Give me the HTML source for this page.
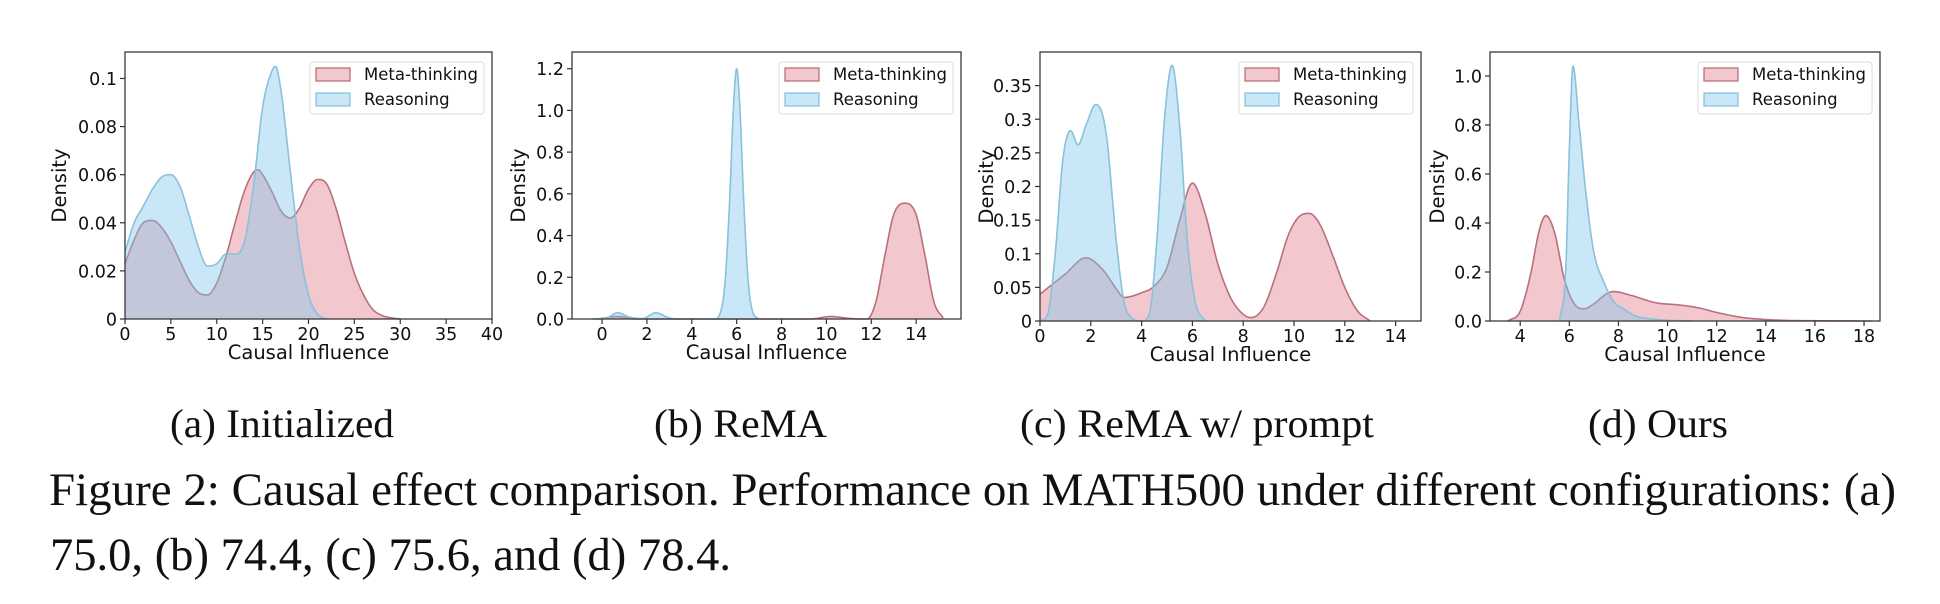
<!DOCTYPE html>
<html><head><meta charset="utf-8">
<style>
html,body{margin:0;padding:0;background:#fff;}
svg{display:block;}
text{font-family:"DejaVu Sans","Liberation Sans",sans-serif;fill:#111;}
.serif{font-family:"Liberation Serif","DejaVu Serif",serif;}
</style></head>
<body>
<svg id="fig" width="1940" height="604" viewBox="0 0 1940 604" xmlns="http://www.w3.org/2000/svg">
  <text class="serif" x="170" y="437" font-size="40" textLength="224" lengthAdjust="spacingAndGlyphs">(a) Initialized</text>
  <text class="serif" x="654" y="437" font-size="40" textLength="173" lengthAdjust="spacingAndGlyphs">(b) ReMA</text>
  <text class="serif" x="1020" y="437" font-size="40" textLength="354" lengthAdjust="spacingAndGlyphs">(c) ReMA w/ prompt</text>
  <text class="serif" x="1588" y="437" font-size="40" textLength="140" lengthAdjust="spacingAndGlyphs">(d) Ours</text>
  <text class="serif" x="49" y="505" font-size="47" textLength="1847" lengthAdjust="spacingAndGlyphs">Figure 2: Causal effect comparison. Performance on MATH500 under different configurations: (a)</text>
  <text class="serif" x="50" y="570" font-size="47" textLength="681" lengthAdjust="spacingAndGlyphs">75.0, (b) 74.4, (c) 75.6, and (d) 78.4.</text>
</svg>
<script>
// ---- data: panel (a) Initialized ----
const aMetaX = [0,1,2,3,4,5,6,7,8,9,10,11,12,13,14,14.5,15,16,17,18,19,20,21,22,23,24,25,26,27,28,29,30];
const aMetaY = [0.023,0.033,0.040,0.041,0.038,0.032,0.024,0.016,0.011,0.010,0.015,0.026,0.040,0.053,0.061,0.062,0.060,0.053,0.045,0.042,0.046,0.054,0.058,0.056,0.046,0.032,0.019,0.010,0.004,0.0015,0.0005,0];
const aReasX = [0,1,2,3,4,5,6,7,8,9,10,11,12,13,14,15,16,16.4,17,18,19,20,21,22];
const aReasY = [0.028,0.040,0.047,0.054,0.059,0.060,0.055,0.043,0.030,0.022,0.023,0.027,0.027,0.032,0.055,0.088,0.103,0.105,0.095,0.062,0.030,0.010,0.002,0];
const aXTicks = [0,5,10,15,20,25,30,35,40];
const aYTicks = [0,0.02,0.04,0.06,0.08,0.1];
const aYTickLabels = ["0","0.02","0.04","0.06","0.08","0.1"];
// ---- data: panel (b) ReMA ----
const bMetaX = [-0.2,0.7,1.5,9.3,10.2,11.1,11.8,12.2,12.6,13.0,13.5,14.0,14.4,14.8,15.2];
const bMetaY = [0,0.012,0,0,0.012,0.002,0,0.08,0.3,0.5,0.555,0.5,0.3,0.08,0.005];
const bReasX = [-0.4,0.2,0.7,1.2,1.8,2.4,3.0,3.5,5.0,5.3,5.5,5.7,5.85,6.0,6.15,6.3,6.5,6.7,7.0];
const bReasY = [0,0.005,0.03,0.01,0.002,0.03,0.005,0,0,0.04,0.2,0.6,1.0,1.2,1.0,0.6,0.2,0.04,0];
const bXTicks = [0,2,4,6,8,10,12,14];
const bYTicks = [0,0.2,0.4,0.6,0.8,1.0,1.2];
const bYTickLabels = ["0.0","0.2","0.4","0.6","0.8","1.0","1.2"];
// ---- data: panel (c) ReMA w/ prompt ----
const cMetaX = [0,0.5,1,1.8,2.5,3.0,3.3,4,4.5,5,5.5,6.0,6.5,7.0,7.5,8.0,8.3,8.8,9.3,9.8,10.3,10.6,11.0,11.5,12.0,12.5,13.0];
const cMetaY = [0.04,0.055,0.07,0.094,0.075,0.048,0.035,0.042,0.052,0.08,0.15,0.205,0.16,0.085,0.035,0.01,0.005,0.02,0.07,0.13,0.158,0.16,0.145,0.1,0.05,0.015,0];
const cReasX = [0,0.3,0.6,0.9,1.2,1.5,1.8,2.2,2.6,3.0,3.3,3.6,4.0,4.3,4.6,4.9,5.2,5.5,5.8,6.1,6.5];
const cReasY = [0,0.01,0.1,0.24,0.283,0.262,0.29,0.322,0.28,0.12,0.03,0.005,0,0.01,0.12,0.30,0.38,0.29,0.12,0.03,0];
const cXTicks = [0,2,4,6,8,10,12,14];
const cYTicks = [0,0.05,0.1,0.15,0.2,0.25,0.3,0.35];
const cYTickLabels = ["0","0.05","0.1","0.15","0.2","0.25","0.3","0.35"];
// ---- data: panel (d) Ours ----
const dMetaX = [3.5,4.0,4.4,4.8,5.05,5.4,5.8,6.2,6.6,7.0,7.5,7.8,8.5,9.5,10.5,11.2,12,13,14,15,16,18.3];
const dMetaY = [0,0.04,0.18,0.38,0.43,0.36,0.17,0.07,0.05,0.07,0.11,0.12,0.105,0.075,0.065,0.055,0.035,0.015,0.006,0.002,0.001,0];
const dReasX = [5.6,5.85,6.0,6.15,6.4,6.7,7.0,7.4,7.8,8.2,8.7,9.2,10,11];
const dReasY = [0,0.2,0.7,1.04,0.8,0.5,0.28,0.16,0.08,0.05,0.02,0.01,0.003,0];
const dXTicks = [4,6,8,10,12,14,16,18];
const dYTicks = [0,0.2,0.4,0.6,0.8,1.0];
const dYTickLabels = ["0.0","0.2","0.4","0.6","0.8","1.0"];

const NS = "http://www.w3.org/2000/svg";
const svg = document.getElementById('fig');
function mk(tag, attrs, parent){
  const e = document.createElementNS(NS, tag);
  for (const k in attrs) e.setAttribute(k, attrs[k]);
  (parent||svg).appendChild(e);
  return e;
}
function monotone(xs, ys){
  const n = xs.length, d = [], m = [];
  for (let i=0;i<n-1;i++) d.push((ys[i+1]-ys[i])/(xs[i+1]-xs[i]));
  m[0]=d[0]; m[n-1]=d[n-2];
  for (let i=1;i<n-1;i++){ m[i] = (d[i-1]*d[i]<=0)?0:(d[i-1]+d[i])/2; }
  for (let i=0;i<n-1;i++){
    if (d[i]===0){ m[i]=0; m[i+1]=0; continue; }
    const a=m[i]/d[i], b=m[i+1]/d[i], s=a*a+b*b;
    if (s>9){ const t=3/Math.sqrt(s); m[i]=t*a*d[i]; m[i+1]=t*b*d[i]; }
  }
  const out=[];
  for (let i=0;i<n-1;i++){
    const h=xs[i+1]-xs[i];
    for (let k=0;k<20;k++){
      const t=k/20, t2=t*t, t3=t2*t;
      const y=(2*t3-3*t2+1)*ys[i]+(t3-2*t2+t)*h*m[i]+(-2*t3+3*t2)*ys[i+1]+(t3-t2)*h*m[i+1];
      out.push([xs[i]+t*h, Math.max(0,y)]);
    }
  }
  out.push([xs[n-1], ys[n-1]]);
  return out;
}
function panel(id, L, R, T, B, xmin, xmax, ymax, xt, yt, ytl, series, ylabX){
  const g = mk('g', {});
  
  
  const sx = v => L + (v - xmin) / (xmax - xmin) * (R - L);
  const sy = v => B - v / ymax * (B - T);
  series.forEach(s => {
    const pts = monotone(s.x, s.y);
    let d = 'M' + sx(pts[0][0]).toFixed(1) + ',' + sy(0).toFixed(1);
    pts.forEach(p => { d += 'L' + sx(p[0]).toFixed(1) + ',' + sy(p[1]).toFixed(1); });
    d += 'L' + sx(pts[pts.length-1][0]).toFixed(1) + ',' + sy(0).toFixed(1) + 'Z';
    const fillEl = mk('path', {d: d, fill: s.fill, stroke: 'none'}, g);
    
    
    let l = '';
    pts.forEach((p,i) => { l += (i?'L':'M') + sx(p[0]).toFixed(1) + ',' + sy(p[1]).toFixed(1); });
    const lineEl = mk('path', {d: l, fill: 'none', stroke: s.stroke, 'stroke-width': 1.6}, g);
    
    
  });
  const frame = mk('rect', {x: L, y: T, width: R-L, height: B-T, fill: 'none', stroke: '#3a3a3a', 'stroke-width': 1.3}, g);
  
  
  xt.forEach(v => {
    const x = sx(v);
    mk('line', {x1: x, x2: x, y1: B, y2: B+5, stroke: '#333', 'stroke-width': 1.2}, g);
    const t = mk('text', {x: x, y: B+21, 'font-size': 17.5, 'text-anchor': 'middle'}, g);
    t.textContent = String(v);
    
    
  });
  yt.forEach((v,i) => {
    const y = sy(v);
    mk('line', {x1: L-5, x2: L, y1: y, y2: y, stroke: '#333', 'stroke-width': 1.2}, g);
    const t = mk('text', {x: L-8, y: y+6.5, 'font-size': 17.5, 'text-anchor': 'end'}, g);
    t.textContent = ytl[i];
    
    
  });
  const xl = mk('text', {x: (L+R)/2, y: B+40, 'font-size': 19.5, 'text-anchor': 'middle'}, g);
  xl.textContent = 'Causal Influence';
  
  
  const yl = mk('text', {x: 0, y: 0, 'font-size': 19.5, 'text-anchor': 'middle', transform: 'translate(' + ylabX + ',' + ((T+B)/2) + ') rotate(-90)'}, g);
  yl.textContent = 'Density';
  
  
  const lx = R - 182, ly = T + 10;
  const lg = mk('g', {}, g);
  
  
  mk('rect', {x: lx, y: ly, width: 174, height: 52, rx: 3, fill: '#fff', 'fill-opacity': 0.85, stroke: '#ddd'}, lg);
  series.forEach((s,i) => {
    const e = mk('g', {}, lg);
    
    
    mk('rect', {x: lx+6, y: ly+6+i*25, width: 34, height: 13, fill: s.fill, stroke: s.stroke, 'stroke-width': 1.3}, e);
    const t = mk('text', {x: lx+54, y: ly+18+i*25, 'font-size': 16.5}, e);
    t.textContent = s.label;
  });
}
const RED_F = 'rgba(222,118,132,0.40)', RED_S = '#b9707c';
const BLUE_F = 'rgba(128,198,235,0.42)', BLUE_S = '#88c2dd';
function ser(mx,my,rx,ry){
  return [
    {name:'meta-thinking', label:'Meta-thinking', x:mx, y:my, fill:RED_F, stroke:RED_S},
    {name:'reasoning', label:'Reasoning', x:rx, y:ry, fill:BLUE_F, stroke:BLUE_S}
  ];
}
panel('a-initialized', 125, 492, 52, 319, 0, 40, 0.111, aXTicks, aYTicks, aYTickLabels, ser(aMetaX,aMetaY,aReasX,aReasY), 66);
panel('b-rema', 572, 961, 52, 319, -1.34, 16.0, 1.28, bXTicks, bYTicks, bYTickLabels, ser(bMetaX,bMetaY,bReasX,bReasY), 525);
panel('c-rema-prompt', 1040, 1421, 52, 321, 0, 15, 0.40, cXTicks, cYTicks, cYTickLabels, ser(cMetaX,cMetaY,cReasX,cReasY), 993);
panel('d-ours', 1490, 1880, 52, 321, 2.77, 18.65, 1.098, dXTicks, dYTicks, dYTickLabels, ser(dMetaX,dMetaY,dReasX,dReasY), 1444);
</script>
</body></html>
